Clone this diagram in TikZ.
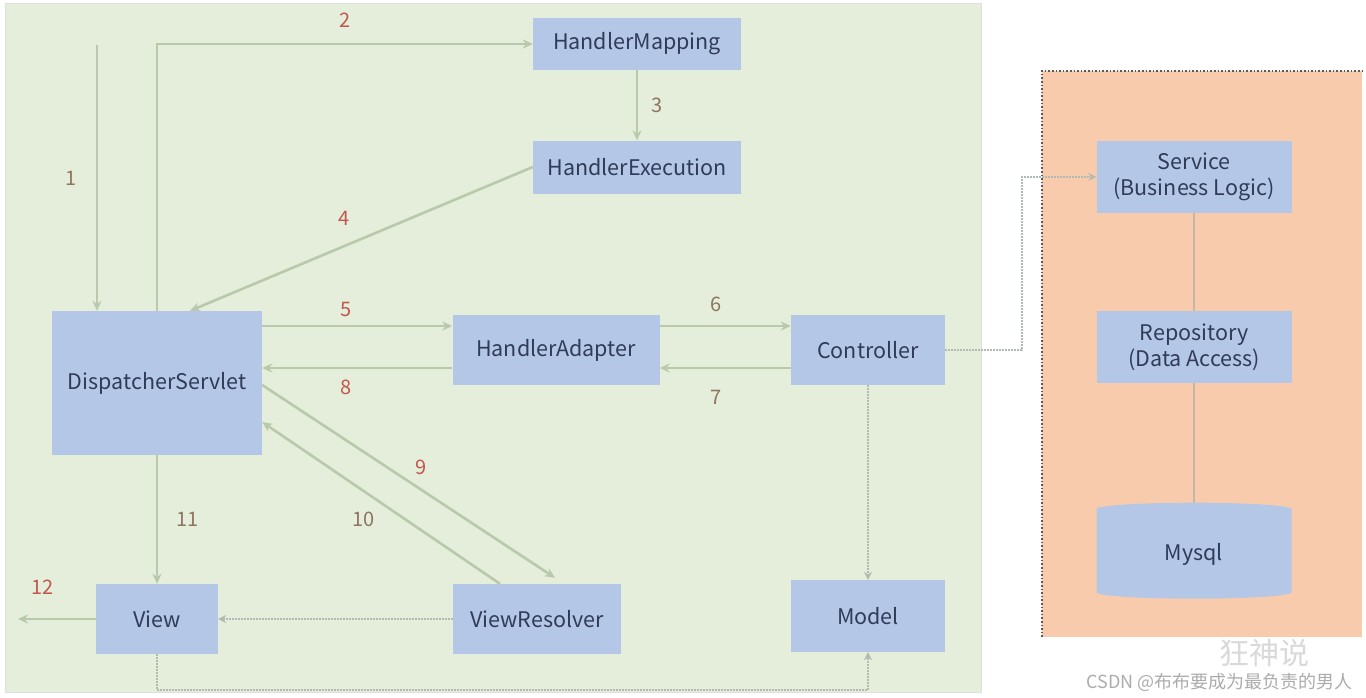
\documentclass[tikz,border=0pt]{standalone}
\usepackage{fontspec}
\setmainfont{Noto Sans CJK SC}
\usepackage{tikz}
\usetikzlibrary{positioning}
\usetikzlibrary{arrows.meta}
\usetikzlibrary{shapes.geometric}
\definecolor{bggreen}{HTML}{E4EEDA}
\definecolor{bgorange}{HTML}{F8CBAD}
\definecolor{boxblue}{HTML}{B4C7E7}
\definecolor{boxtext}{HTML}{2F3B57}
\definecolor{linegreen}{HTML}{B9C9AC}
\definecolor{linebrown}{HTML}{C9B7A6}
\definecolor{dotgray}{HTML}{B3BAB3}
\definecolor{numred}{HTML}{C2574F}
\definecolor{numbrown}{HTML}{8E7560}
\tikzset{
	block/.style={
		fill=boxblue,
		text=boxtext,
		inner sep=0pt,
		align=center,
		font=\fontsize{21.5}{26}\selectfont},
	flow/.style={
		draw=linegreen,
		-{Stealth[length=10pt,width=9pt]},
		line width=2.6pt},
	every edge/.style={flow},
	dotflow/.style={
		draw=dotgray,
		densely dotted,
		-{Stealth[length=8pt,width=8pt]},
		line width=2pt},
	num/.style={
		text=numred,
		inner sep=1pt,
		font=\fontsize{20}{24}\selectfont},
	numb/.style={num, text=numbrown}
}

\begin{document}
\begin{tikzpicture}[x=1pt,y=-1pt]
	\useasboundingbox (0,0) rectangle (1366,697);
	\fill[white] (0,0) rectangle (1366,697);
	% backgrounds
	\draw[fill=bggreen, draw=gray!25] (5,3) rectangle (981,692);
	\fill[bgorange] (1042,71) rectangle (1362,637);
	\draw[dotted, line width=1.6pt, draw=gray!70!black] (1042,637) -- (1042,71) -- (1362,71);

	\node[block, minimum width=208pt, minimum height=52pt] (hm) at (637,44) {HandlerMapping};
	\node[block, minimum width=208pt, minimum height=53pt] (he) at (637,167) {HandlerExecution};
	\node[block, minimum width=210pt, minimum height=144pt] (ds) at (157,383) {DispatcherServlet};
	\node[block, minimum width=207pt, minimum height=70pt] (ha) at (556,350) {HandlerAdapter};
	\node[block, minimum width=154pt, minimum height=70pt] (ctrl) at (868,350) {Controller};
	\node[block, minimum width=122pt, minimum height=70pt] (view) at (157,619) {View};
	\node[block, minimum width=168pt, minimum height=70pt] (vr) at (537,619) {ViewResolver};
	\node[block, minimum width=154pt, minimum height=72pt] (model) at (868,616) {Model};
	\node[block, minimum width=195pt, minimum height=72pt] (svc) at (1194,177) {Service\\(Business Logic)};
	\node[block, minimum width=195pt, minimum height=72pt] (repo) at (1194,347) {Repository\\(Data Access)};
	\node[block, cylinder, shape border rotate=90, aspect=0.22,
		minimum width=195pt, minimum height=96pt] (db) at (1194,554) {Mysql};

	\coordinate (in1) at (97,45);
	\coordinate (out12) at (18,619);
	\coordinate (bot) at (157,690);
	\coordinate (jn) at (1022,350);

	\draw (in1) edge node[numb, left=18pt] {1} (in1 |- ds.north);
	\draw[flow] (ds.north) |- node[num, pos=0.75, above=14pt] {2} (hm.west);
	\draw (hm) edge[line width=1.4pt] node[numb, right=13pt] {3} (he);
	\draw (he.west) edge node[num, pos=0.55, above=18pt] {4} ([xshift=33pt]ds.north);
	\draw ([yshift=24pt]ha.west -| ds.east) edge node[num, pos=0.44, above=7pt] {5} ([yshift=24pt]ha.west);
	\draw ([yshift=-18pt]ha.west) edge node[num, pos=0.56, below=10pt] {8} ([yshift=-18pt]ha.west -| ds.east);
	\draw ([yshift=24pt]ha.east) edge node[numb, pos=0.43, above=12pt] {6} ([yshift=24pt]ctrl.west);
	\draw ([yshift=-18pt]ctrl.west) edge node[numb, pos=0.57, below=20pt] {7} ([yshift=-18pt]ha.east);
	\draw ([yshift=-2pt]ds.east) edge node[num, pos=0.51, xshift=10pt, yshift=16pt] {9} ([xshift=18pt, yshift=6pt]vr.north);
	\draw ([xshift=-37pt]vr.north) edge node[numb, pos=0.52, xshift=-13pt, yshift=-20pt] {10} ([yshift=-39pt]ds.east);
	\draw (ds.south) edge node[numb, right=17pt] {11} (view.north);
	\draw (view.west) edge node[num, pos=0.69, above=22pt] {12} (out12);

	% dotted returns
	\draw[dotflow] (vr.west) -- (view.east);
	\draw[dotflow] (ctrl.south) -- (model.north);
	\draw[dotflow] (view.south) -- (bot) -| (model.south);
	\draw[dotflow] (ctrl.east) -- (jn) |- (svc.west);

	% service layer
	\draw[draw=linebrown, line width=2pt] (svc) -- (repo);
	\draw[draw=linebrown, line width=2pt] (repo) -- (db);

	% watermark
	\node[text=gray!30, font=\fontsize{30}{34}\selectfont] (wm1) at (1264,653) {狂神说};
	\node[text=gray!65, font=\fontsize{18}{22}\selectfont, anchor=east] (wm2) at (1356,682) {CSDN @布布要成为最负责的男人};
\end{tikzpicture}
\end{document}
